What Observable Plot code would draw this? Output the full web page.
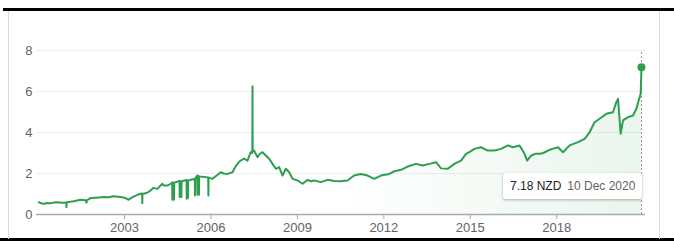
<!DOCTYPE html>
<html><head><meta charset="utf-8">
<script src="https://cdn.jsdelivr.net/npm/d3@7"></script>
<script src="https://cdn.jsdelivr.net/npm/@observablehq/plot@0.6"></script>
<style>
body{margin:0;background:#fff;}
#wrap{position:relative;width:674px;height:247px;overflow:hidden;font-family:Arial,"Liberation Sans",sans-serif;}
.hline{position:absolute;height:3px;background:#000;}
.vline{position:absolute;top:11px;width:1px;height:228px;background:#dcdcdc;}
#tip{position:absolute;background:#fff;box-shadow:0 1px 3px rgba(0,0,0,.3);border-radius:2px;font-size:12px;white-space:nowrap;height:26px;line-height:26px;padding:0 7px;box-sizing:border-box;}
#tip .v{color:#202124;}
#tip .d{color:#5f6368;margin-left:6px;}
</style></head><body><div id="wrap"></div>
<script>
const dates = [
"2000-01-10","2000-02-05","2000-03-14","2000-04-20","2000-06-07","2000-07-15","2000-08-30","2000-11-05",
"2000-12-24","2000-12-26","2000-12-28","2001-02-10","2001-03-29","2001-06-22","2001-08-24","2001-09-06",
"2001-09-12","2001-10-01","2001-10-26","2002-01-11","2002-04-10","2002-06-13","2002-08-15","2002-11-12",
"2003-01-01","2003-02-21","2003-04-13","2003-06-15","2003-07-23","2003-08-12","2003-08-14","2003-08-16",
"2003-10-16","2003-11-27","2004-01-04","2004-02-20","2004-04-24","2004-05-11","2004-06-27","2004-08-08",
"2004-08-27","2004-08-29","2004-08-31","2004-09-17","2004-09-19","2004-09-21",
"2004-11-28","2004-11-30","2004-12-02","2004-12-20","2004-12-22","2004-12-24",
"2005-02-25","2005-02-27","2005-03-01","2005-03-13","2005-03-15","2005-03-17",
"2005-06-10","2005-06-12","2005-06-14","2005-07-11","2005-07-13","2005-07-15",
"2005-07-31","2005-08-02","2005-08-04","2005-11-27","2005-11-29","2005-12-01",
"2006-01-19","2006-03-14","2006-05-04","2006-06-11","2006-07-28","2006-09-30","2006-11-10","2006-12-18",
"2007-01-13","2007-02-24","2007-04-08","2007-05-20","2007-06-09","2007-06-11","2007-06-13","2007-07-01",
"2007-08-13","2007-09-11","2007-10-16","2007-11-27","2008-01-08","2008-02-20","2008-04-02","2008-05-14",
"2008-06-26","2008-08-07","2008-09-18","2008-10-31","2009-01-03","2009-03-07","2009-05-09","2009-06-20",
"2009-08-01","2009-10-25","2010-01-18","2010-04-11","2010-07-05","2010-09-28","2010-12-20","2011-03-15",
"2011-06-09","2011-08-31","2011-11-25","2012-03-10","2012-05-12","2012-08-06","2012-10-29","2013-02-12",
"2013-05-08","2013-07-31","2013-10-24","2013-12-26","2014-03-21","2014-06-13","2014-09-06","2014-11-08",
"2014-12-20","2015-02-22","2015-05-18","2015-08-11","2015-11-03","2016-01-27","2016-04-21","2016-06-24",
"2016-09-16","2016-10-29","2016-11-18","2016-12-22","2017-02-11","2017-04-03","2017-05-28","2017-07-14",
"2017-09-12","2017-11-06","2018-01-17","2018-03-21","2018-06-13","2018-09-27","2018-12-20","2019-02-21",
"2019-04-25","2019-06-28","2019-09-21","2019-12-15","2020-01-26","2020-02-17","2020-03-21","2020-04-20",
"2020-06-23","2020-08-25","2020-10-06","2020-11-04","2020-11-30","2020-12-10"
];
const values = [
0.60,0.55,0.52,0.56,0.55,0.58,0.60,0.57,
0.58,0.36,0.60,0.62,0.65,0.72,0.70,0.58,
0.70,0.74,0.80,0.82,0.85,0.84,0.89,0.85,
0.82,0.72,0.85,0.96,1.01,1.02,0.55,1.00,
1.06,1.17,1.30,1.25,1.50,1.41,1.41,1.50,
1.56,0.72,1.56,1.55,0.72,1.55,
1.64,0.85,1.64,1.62,0.85,1.62,
1.68,0.77,1.68,1.66,0.80,1.66,
1.74,0.93,1.74,1.90,0.96,1.90,
1.86,0.96,1.86,1.80,0.93,1.80,
1.74,1.90,2.06,2.00,1.98,2.06,2.35,2.55,
2.63,2.72,2.63,3.04,3.00,6.25,3.10,3.12,
2.80,2.95,3.04,2.88,2.72,2.47,2.23,2.31,
1.90,2.23,2.06,1.74,1.66,1.50,1.69,1.62,
1.66,1.58,1.69,1.63,1.62,1.66,1.90,1.98,
1.90,1.74,1.90,1.98,2.11,2.18,2.34,2.47,
2.39,2.47,2.55,2.25,2.23,2.47,2.63,2.96,
3.04,3.20,3.28,3.12,3.12,3.20,3.37,3.28,
3.37,3.10,2.96,2.63,2.88,2.96,2.96,3.00,
3.12,3.20,3.28,3.04,3.37,3.53,3.69,4.01,
4.50,4.67,4.91,4.99,5.48,5.64,3.94,4.59,
4.75,4.83,5.16,5.56,5.89,7.18
];
const yTicks = [0, 2, 4, 6, 8];
const tickYears = [2003, 2006, 2009, 2012, 2015, 2018];
const currency = "NZD";
const lastLabel = "10 Dec 2020";

const green = "#2e9e4f";
const data = dates.map((d, i) => ({date: new Date(d + "T00:00:00Z"), value: values[i]}));
const last = data[data.length - 1];
const xTicks = tickYears.map(y => new Date(Date.UTC(y, 0, 1)));

const chart = Plot.plot({
  width: 674, height: 247,
  marginLeft: 36, marginRight: 29, marginTop: 50, marginBottom: 33,
  style: {fontFamily: "Arial, 'Liberation Sans', sans-serif", fontSize: "13px", color: "#5f6368", background: "transparent", overflow: "visible"},
  x: {type: "utc", domain: [new Date("1999-12-12T00:00:00Z"), new Date("2021-01-30T00:00:00Z")]},
  y: {domain: [0, 8]},
  marks: [
    Plot.gridY(yTicks.filter(d => d > 0), {stroke: "#eeeeee", strokeOpacity: 1}),
    Plot.axisY(yTicks, {tickSize: 0, tickPadding: 4, label: null, fill: "#5f6368"}),
    Plot.areaY(data, {x: "date", y: "value", fill: "url(#fadeGreen)"}),
    Plot.ruleY([0], {stroke: "#aaaaaa", strokeWidth: 1.5}),
    Plot.axisX(xTicks, {tickSize: 5, tickPadding: 3, stroke: "#aaaaaa", label: null, fill: "#5f6368", tickFormat: d3.utcFormat("%Y")}),
    Plot.ruleX([last], {x: "date", y1: 0, y2: 8, stroke: "#999", strokeDasharray: "2,2"}),
    Plot.lineY(data, {x: "date", y: "value", stroke: green, strokeWidth: 2, strokeLinejoin: "round"}),
    Plot.dot([last], {x: "date", y: "value", r: 4, fill: green})
  ]
});

d3.select(chart).insert("defs", ":first-child").html(
  '<linearGradient id="fadeGreen" x1="0" x2="1" y1="0" y2="0">' +
  '<stop offset="0" stop-color="' + green + '" stop-opacity="0"/>' +
  '<stop offset="0.5" stop-color="' + green + '" stop-opacity="0"/>' +
  '<stop offset="1" stop-color="' + green + '" stop-opacity="0.10"/>' +
  '</linearGradient>');

const wrap = document.getElementById("wrap");
wrap.appendChild(chart);
chart.style.position = "absolute";
chart.style.left = "0";
chart.style.top = "0";

// frame lines
const lineTop = document.createElement("div"); lineTop.className = "hline";
lineTop.style.cssText += "left:3px;width:671px;top:8px;";
wrap.appendChild(lineTop);
const lineBot = document.createElement("div"); lineBot.className = "hline";
lineBot.style.cssText += "left:0;width:674px;top:238px;";
wrap.appendChild(lineBot);
const lineL = document.createElement("div"); lineL.className = "vline"; lineL.style.left = "8px"; wrap.appendChild(lineL);
const lineR = document.createElement("div"); lineR.className = "vline"; lineR.style.left = "659px"; wrap.appendChild(lineR);

// tooltip
const xs = chart.scale("x"), ys = chart.scale("y");
const tip = document.createElement("div");
tip.id = "tip";
tip.innerHTML = '<span class="v">' + last.value.toFixed(2) + ' ' + currency + '</span><span class="d">' + lastLabel + '</span>';
wrap.appendChild(tip);
const tx = xs.apply(last.date);
tip.style.top = ys.apply(2) + "px";
tip.style.left = (tx + 1 - tip.offsetWidth) + "px";
</script>
</body></html>
